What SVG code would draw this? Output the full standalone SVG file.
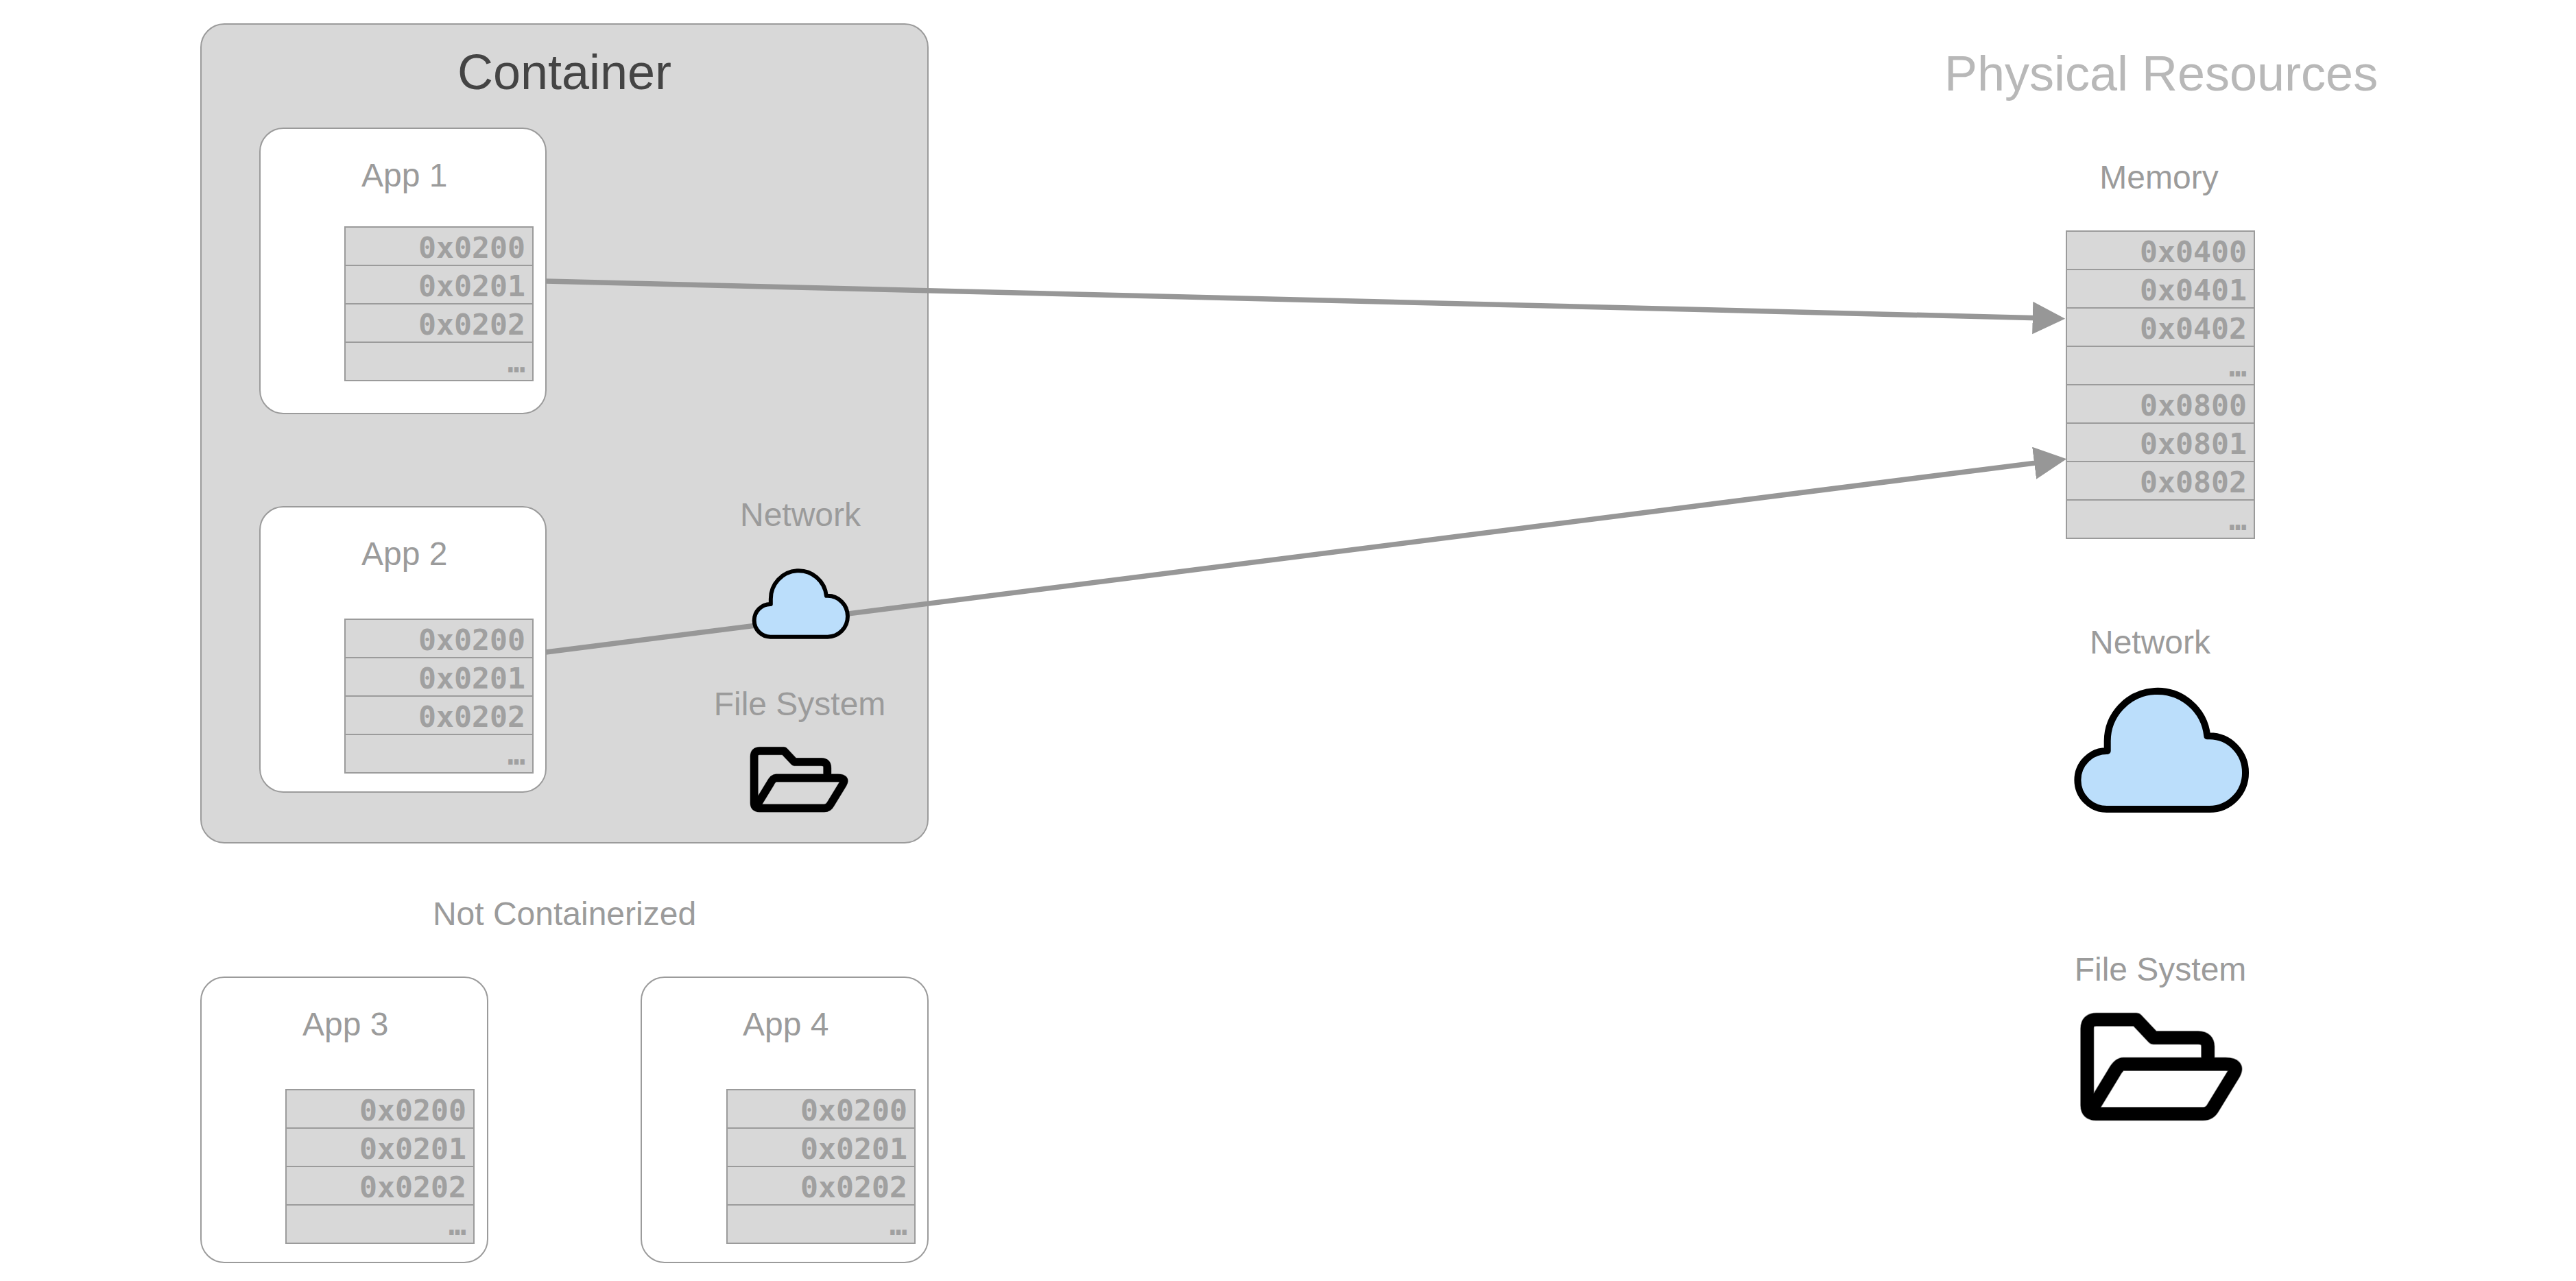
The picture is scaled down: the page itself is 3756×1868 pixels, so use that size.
<svg xmlns="http://www.w3.org/2000/svg" xmlns:xlink="http://www.w3.org/1999/xlink" width="3756" height="1868" viewBox="0 0 3756 1868">
<style>
text{font-family:"Liberation Sans",Arial,sans-serif;fill:#9b9b9b;font-size:48px}
.title{font-size:72px}
.mono{font-family:"DejaVu Sans Mono","Liberation Mono",monospace;font-weight:700;font-size:43.2px;text-anchor:end;fill:#a0a0a0}
.box{stroke:#9b9b9b;stroke-width:2}
.cell{fill:#d8d8d8;stroke:#9b9b9b;stroke-width:2}
.sep{stroke:#9b9b9b;stroke-width:2}
.cloud{fill:#bbdefb;stroke:#000;stroke-width:10;stroke-linejoin:round}
.fh{fill:none;stroke:#9b9b9b;stroke-width:20.5;stroke-linejoin:round}
.fb{fill:none;stroke:#000;stroke-width:19;stroke-linejoin:round}
.conn{stroke:#979797;stroke-width:7.5;fill:none;marker-end:url(#arrow)}
</style>
<defs>
<marker id="arrow" markerUnits="userSpaceOnUse" markerWidth="50" markerHeight="50" refX="37" refY="23.7" orient="auto"><path d="M0 0L47.5 23.7L0 47.4Z" fill="#979797"/></marker>
<path id="cloud" d="M3071.7 1180H3221.7A52.3 53.3 0 0 0 3221.7 1073.3H3218.3A73 73 0 0 0 3072.7 1081.7V1095H3071.7A42.3 42.5 0 0 0 3071.7 1180Z"/>
<path id="folder" d="M3043.3 1612V1500Q3043.3 1486.7 3056.7 1486.7H3115L3140 1513.3H3205Q3219.3 1513.3 3219.3 1527V1551.7M3096 1551.7H3245Q3265 1551.7 3257 1566L3227 1615Q3222 1624.3 3212 1624.3H3056Q3043.3 1624.3 3043.3 1612M3047 1622.6L3082 1565Q3089 1551.7 3096 1551.7"/>
<g id="t2">
<rect class="cell" width="274" height="224"/>
<path class="sep" d="M0 56H274M0 112H274M0 168H274"/>
<text class="mono" x="263" y="45">0x0200</text>
<text class="mono" x="263" y="101">0x0201</text>
<text class="mono" x="263" y="157">0x0202</text>
<text class="mono" x="263" y="212">…</text>
</g>
</defs>
<rect width="3756" height="1868" fill="#fff"/>
<g id="container">
<rect class="box" x="293" y="35" width="1060" height="1194" rx="34" fill="#d8d8d8"/>
<text class="title" x="823" y="130" text-anchor="middle" style="fill:#444">Container</text>
</g>
<g id="app1">
<rect class="box" x="379" y="187" width="417" height="416" rx="34" fill="#fff"/>
<text x="527" y="272">App 1</text>
<use href="#t2" xlink:href="#t2" x="503" y="331"/>
</g>
<g id="app2">
<rect class="box" x="379" y="739" width="417" height="416" rx="34" fill="#fff"/>
<text x="527" y="824">App 2</text>
<use href="#t2" xlink:href="#t2" x="503" y="903"/>
</g>
<g id="connectors">
<path class="conn" d="M796 410L3000.7 464.45"/>
<path class="conn" d="M796 951L3002.8 670.6"/>
</g>
<g id="network-container">
<text x="1167" y="767" text-anchor="middle">Network</text>
<g transform="translate(1096.7 830) scale(.557 .5605) translate(-3024 -1004)"><use href="#cloud" xlink:href="#cloud" class="cloud" style="stroke-width:10.7"/></g>
</g>
<g id="fs-container">
<text x="1166" y="1043" text-anchor="middle">File System</text>
<g transform="translate(1094 1089.3) scale(.606) translate(-3034 -1477.3)">
<use href="#folder" xlink:href="#folder" class="fh"/>
<use href="#folder" xlink:href="#folder" class="fb"/>
</g>
</g>
<g id="not-containerized">
<text x="823" y="1349" text-anchor="middle">Not Containerized</text>
</g>
<g id="app3">
<rect class="box" x="293" y="1425" width="418" height="416" rx="34" fill="#fff"/>
<text x="441" y="1510">App 3</text>
<use href="#t2" xlink:href="#t2" x="417" y="1589"/>
</g>
<g id="app4">
<rect class="box" x="935" y="1425" width="418" height="416" rx="34" fill="#fff"/>
<text x="1083" y="1510">App 4</text>
<use href="#t2" xlink:href="#t2" x="1060" y="1589"/>
</g>
<g id="physical-title">
<text class="title" x="3151" y="132" text-anchor="middle" style="fill:#b8b8b8">Physical Resources</text>
</g>
<g id="memory">
<text x="3148" y="275" text-anchor="middle">Memory</text>
<g transform="translate(3013 337)">
<rect class="cell" width="274" height="448"/>
<path class="sep" d="M0 56H274M0 112H274M0 168H274M0 224H274M0 280H274M0 336H274M0 392H274"/>
<text class="mono" x="263" y="45">0x0400</text>
<text class="mono" x="263" y="101">0x0401</text>
<text class="mono" x="263" y="157">0x0402</text>
<text class="mono" x="263" y="212">…</text>
<text class="mono" x="263" y="269">0x0800</text>
<text class="mono" x="263" y="325">0x0801</text>
<text class="mono" x="263" y="381">0x0802</text>
<text class="mono" x="263" y="436">…</text>
</g>
</g>
<g id="network-physical">
<text x="3135" y="953" text-anchor="middle">Network</text>
<use href="#cloud" xlink:href="#cloud" class="cloud"/>
</g>
<g id="fs-physical">
<text x="3150" y="1430" text-anchor="middle">File System</text>
<use href="#folder" xlink:href="#folder" class="fh"/>
<use href="#folder" xlink:href="#folder" class="fb"/>
</g>
</svg>
